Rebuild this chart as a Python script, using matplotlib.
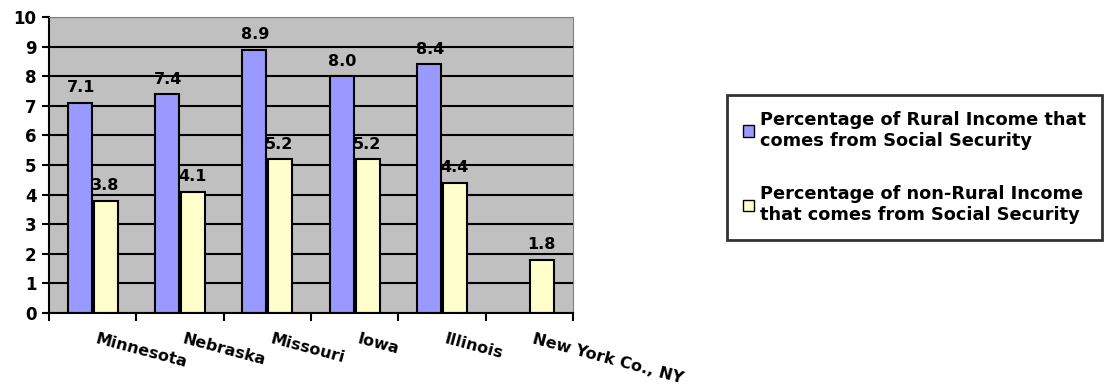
import numpy as np
import matplotlib.pyplot as plt
import matplotlib.transforms as mtransforms
from matplotlib.ticker import FixedLocator

# data
states = ["Minnesota", "Nebraska", "Missouri", "Iowa", "Illinois", "New York Co., NY"]
rural = [7.1, 7.4, 8.9, 8.0, 8.4, np.nan]
non_rural = [3.8, 4.1, 5.2, 5.2, 4.4, 1.8]
rural_label = "Percentage of Rural Income that\ncomes from Social Security"
non_rural_label = "Percentage of non-Rural Income\nthat comes from Social Security"

plt.rcParams['font.family'] = ['DejaVu Sans']
plt.rcParams['font.weight'] = 'bold'

fig = plt.figure(figsize=(11.07, 3.92), dpi=100)
ax = fig.add_axes([49 / 1107, 1 - 313 / 392, (573 - 49) / 1107, (313 - 17) / 392])

x = np.arange(len(states))
w = 0.275
ax.set_facecolor("#C0C0C0")
ax.set_axisbelow(True)
ax.grid(axis='y', color='black', linewidth=1.5)
b1 = ax.bar(x - w / 2 - 0.01, rural, w, color="#9999FF", edgecolor='black', linewidth=1.5, label=rural_label)
b2 = ax.bar(x + w / 2 + 0.01, non_rural, w, color="#FFFFCC", edgecolor='black', linewidth=1.5, label=non_rural_label)

# value labels above the bars
for xi, v in zip(x, rural):
    if not np.isnan(v):
        ax.text(xi - w / 2, v + 0.25, "%.1f" % v, ha='center', va='bottom', fontsize=11.5, fontweight='bold')
for xi, v in zip(x, non_rural):
    ax.text(xi + w / 2, v + 0.25, "%.1f" % v, ha='center', va='bottom', fontsize=11.5, fontweight='bold')

ax.set_xlim(-0.5, len(states) - 0.5)
ax.set_ylim(0, 10)
ax.set_yticks(range(0, 11))
ax.tick_params(axis='y', labelsize=12, length=5, width=1.5, direction='out', pad=4)
ax.set_xticks(x)
ax.set_xticklabels(states, rotation=-15, ha='left', va='top', rotation_mode='anchor', fontsize=11.5)
ax.tick_params(axis='x', which='major', length=0, pad=13)
ax.xaxis.set_minor_locator(FixedLocator(np.arange(-0.5, len(states), 1.0)))
ax.tick_params(axis='x', which='minor', length=6, width=1.5, direction='out')
shift = mtransforms.ScaledTranslation(5 / 100, 0, fig.dpi_scale_trans)
for lbl in ax.get_xticklabels():
    lbl.set_transform(lbl.get_transform() + shift)
for lbl in ax.get_yticklabels() + ax.get_xticklabels():
    lbl.set_fontweight('bold')

ax.spines['left'].set_linewidth(1.5)
ax.spines['bottom'].set_linewidth(1.5)
ax.spines['top'].set_color('#808080')
ax.spines['right'].set_color('#808080')

leg = fig.legend(handles=[b1, b2], loc='upper left', bbox_to_anchor=(727 / 1107, 1 - 95 / 392),
                 prop={'weight': 'bold', 'size': 12.8}, frameon=True, fancybox=False,
                 handlelength=0.6, handleheight=0.6, handletextpad=0.35, labelspacing=2.0,
                 borderpad=0.9, borderaxespad=0)
leg.get_frame().set_edgecolor('black')
leg.get_frame().set_linewidth(2)
for h in leg.legend_handles:
    h.set_linewidth(1.0)

fig.savefig("out.png", dpi=100)
